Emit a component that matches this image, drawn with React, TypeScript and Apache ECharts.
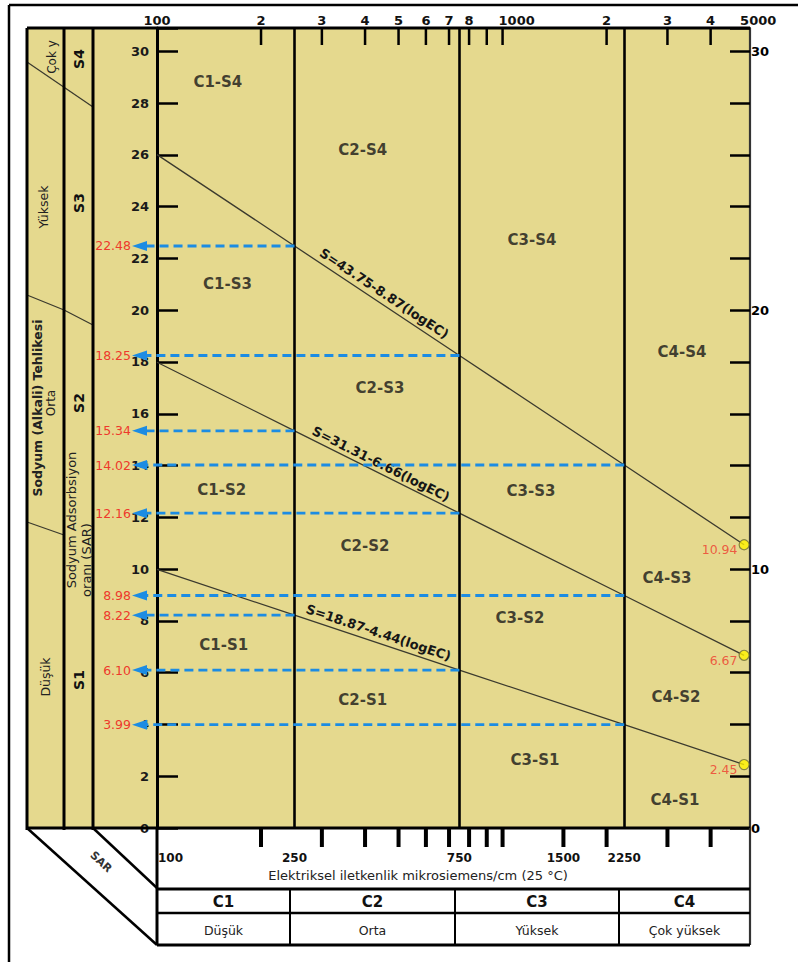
import React, { useEffect, useRef } from "react";
import * as echarts from "echarts";

// Salinity (EC) classes: boundaries in µS/cm, class names and hazard levels
const ecBounds = [250, 750, 2250];
const ecClasses = ["C1", "C2", "C3", "C4"];
const ecLevels = ["Düşük", "Orta", "Yüksek", "Çok yüksek"];

// Sodium hazard boundary lines, sampled at these EC values
const lineEC = [100, 250, 750, 2250, 5000];
const sarS4S3 = [26.01, 22.48, 18.25, 14.02, 10.94];
const sarS3S2 = [17.99, 15.34, 12.16, 8.98, 6.67];
const sarS2S1 = [9.99, 8.22, 6.1, 3.99, 2.45];
const equations = ["S=43.75-8.87(logEC)", "S=31.31-6.66(logEC)", "S=18.87-4.44(logEC)"];

// Zone names with their place in the diagram: [name, EC, SAR]
const zones: [string, number, number][] = [
  ["C1-S4", 150, 28.8], ["C2-S4", 394, 26.2], ["C3-S4", 1216, 22.7], ["C4-S4", 3304, 18.4],
  ["C1-S3", 160, 21.0], ["C2-S3", 442, 17.0], ["C3-S3", 1208, 13.0], ["C4-S3", 2990, 9.65],
  ["C1-S2", 154, 13.05], ["C2-S2", 400, 10.9], ["C3-S2", 1123, 8.1], ["C4-S2", 3175, 5.06],
  ["C1-S1", 156, 7.07], ["C2-S1", 394, 4.94], ["C3-S1", 1241, 2.63], ["C4-S1", 3154, 1.08],
];

// EC axis ticks and labels
const topTickValues = [200, 300, 400, 500, 600, 700, 800, 900, 1000, 2000, 3000, 4000];
const topLabelValues = [100, 200, 300, 400, 500, 600, 700, 800, 1000, 2000, 3000, 4000, 5000];
const topLabels = ["100", "2", "3", "4", "5", "6", "7", "8", "1000", "2", "3", "4", "5000"];
const bottomTickValues = [200, 300, 400, 500, 600, 700, 800, 900, 1000, 1500, 2000, 3000, 4000];
const bottomLabelValues = [100, 250, 750, 1500, 2250];

const FONT = "'DejaVu Sans', sans-serif";
const YELLOW = "#e5d98e";
const RED = "#ee3a2c";
const BLUE = "#1c8ce3";
const INK = "#111";

// page layout (px)
const GRID = { left: 157, top: 28, width: 593, height: 800 };
const RIGHT = GRID.left + GRID.width;
const BOTTOM = GRID.top + GRID.height;
const COL = [27, 64, 93];
const TABLE_Y = [889, 913, 945];
const TABLE_X = [157, 290, 455, 619, 750];

const boundaryLines = [sarS4S3, sarS3S2, sarS2S1];

function buildOption(): echarts.EChartsOption {
  const lineSeries = boundaryLines.map((arr, i) => ({
    type: "line" as const,
    data: lineEC.map((ec, k) => [ec, arr[k]]),
    symbol: "none",
    lineStyle: { color: "#3b3a2e", width: 1.3 },
    z: 3,
    silent: true,
    markLine:
      i === 0
        ? {
            silent: true,
            symbol: ["none", "none"],
            label: { show: false },
            lineStyle: { color: "#000", width: 2.6, type: "solid" as const },
            data: ecBounds.map((v) => ({ xAxis: v })),
          }
        : undefined,
  }));

  return {
    animation: false,
    grid: { ...GRID, containLabel: false, outerBoundsMode: "none" } as any,
    xAxis: { type: "log", logBase: 10, min: 100, max: 5200, show: false },
    yAxis: [
      {
        type: "value",
        position: "left",
        min: 0,
        max: 30.9,
        interval: 2,
        axisLine: { show: true, onZero: false, lineStyle: { color: "#000", width: 3 } },
        axisTick: { show: true, inside: true, length: 21, lineStyle: { color: "#000", width: 2.5 } },
        axisLabel: {
          formatter: (v: number) => (v % 2 === 0 && v <= 30 ? String(v) : ""),
          color: "#1a1a1a",
          fontFamily: FONT,
          fontWeight: "bold",
          fontSize: 13,
          margin: 8,
        },
        splitLine: { show: false },
      },
      {
        type: "value",
        position: "right",
        min: 0,
        max: 30.9,
        interval: 2,
        axisLine: { show: true, onZero: false, lineStyle: { color: "#333", width: 2.2 } },
        axisTick: { show: true, inside: true, length: 20, lineStyle: { color: "#000", width: 2.5 } },
        axisLabel: {
          formatter: (v: number) => (v % 10 === 0 ? String(v) : ""),
          color: "#000",
          fontFamily: FONT,
          fontWeight: "bold",
          fontSize: 13,
          margin: 1,
        },
        splitLine: { show: false },
      },
    ],
    series: [
      ...lineSeries,
      {
        type: "scatter",
        data: boundaryLines.map((arr) => [lineEC[lineEC.length - 1], arr[arr.length - 1]]),
        symbol: "circle",
        symbolSize: 10,
        clip: false,
        z: 6,
        itemStyle: { color: "#fff200", borderColor: "#6b6b3a", borderWidth: 1.2 },
        label: {
          show: true,
          position: "left",
          distance: 1,
          offset: [0, 5],
          formatter: (p: any) => p.value[1].toFixed(2),
          color: RED,
          fontFamily: FONT,
          fontSize: 12.5,
        },
      },
      {
        type: "scatter",
        data: zones.map(([name, ec, sar]) => ({ name, value: [ec, sar] })),
        symbolSize: 1,
        itemStyle: { color: "rgba(0,0,0,0)" },
        z: 5,
        silent: true,
        label: {
          show: true,
          position: "inside",
          formatter: "{b}",
          color: "#161616",
          fontFamily: FONT,
          fontWeight: "bold",
          fontSize: 15,
        },
      },
    ],
  } as any;
}

function buildGraphic(chart: echarts.ECharts) {
  const P = (ec: number, s: number) => chart.convertToPixel({ gridIndex: 0 }, [ec, s]) as number[];
  const g: any[] = [];
  const seg = (x1: number, y1: number, x2: number, y2: number, w: number, color = "#000", z = 60, dash?: number[]) =>
    g.push({ type: "line", silent: true, z, shape: { x1, y1, x2, y2 }, style: { stroke: color, lineWidth: w, lineDash: dash } });
  const txt = (
    x: number,
    y: number,
    text: string,
    o: { size?: number; bold?: boolean; color?: string; align?: string; rotation?: number; z?: number } = {}
  ) =>
    g.push({
      type: "text",
      silent: true,
      x,
      y,
      rotation: o.rotation || 0,
      z: o.z ?? 70,
      style: {
        text,
        fill: o.color || INK,
        fontFamily: FONT,
        fontSize: o.size || 12,
        fontWeight: o.bold ? "bold" : "normal",
        align: o.align || "center",
        verticalAlign: "middle",
        textAlign: o.align || "center",
        textVerticalAlign: "middle",
      },
    });

  // yellow panel behind the plot and the side columns
  g.push({ type: "rect", silent: true, z: -10, shape: { x: COL[0], y: GRID.top, width: RIGHT - COL[0], height: GRID.height }, style: { fill: YELLOW } });

  // outer frame
  seg(9, 5, 798, 5, 2.5);
  seg(9, 5, 9, 962, 2.5);

  // panel borders and column separators
  seg(COL[0], GRID.top, RIGHT, GRID.top, 3);
  seg(COL[0], BOTTOM, RIGHT, BOTTOM, 3);
  seg(COL[0], GRID.top, COL[0], BOTTOM + 2, 3);
  seg(COL[1], GRID.top, COL[1], BOTTOM + 2, 3);
  seg(COL[2], GRID.top, COL[2], BOTTOM + 2, 3);
  seg(GRID.left, BOTTOM, GRID.left, TABLE_Y[2], 3);
  seg(RIGHT, BOTTOM, RIGHT, TABLE_Y[2], 2.2, "#333");

  // class table under the EC axis
  seg(GRID.left, TABLE_Y[0], RIGHT, TABLE_Y[0], 3);
  seg(GRID.left, TABLE_Y[1], RIGHT, TABLE_Y[1], 2.5);
  seg(GRID.left, TABLE_Y[2], RIGHT, TABLE_Y[2], 3);
  for (let i = 1; i < TABLE_X.length - 1; i++) seg(TABLE_X[i], TABLE_Y[0], TABLE_X[i], TABLE_Y[2], 2);
  ecClasses.forEach((c, i) => {
    const cx = (TABLE_X[i] + TABLE_X[i + 1]) / 2;
    txt(cx, (TABLE_Y[0] + TABLE_Y[1]) / 2 + 1, c, { size: 15, bold: true });
    txt(cx, (TABLE_Y[1] + TABLE_Y[2]) / 2 + 1, ecLevels[i], { size: 12.5, color: "#222" });
  });

  // slanted corner lines and SAR caption
  seg(COL[0], BOTTOM, GRID.left, TABLE_Y[2], 2.5);
  seg(COL[2], BOTTOM, GRID.left, TABLE_Y[0] - 1, 2.5);
  txt(101, 862, "SAR", { size: 11, bold: true, rotation: -0.75, color: "#333" });

  // top EC ticks and labels
  topTickValues.forEach((v) => {
    const x = P(v, 0)[0];
    seg(x, GRID.top, x, GRID.top + 17, 2.5);
  });
  topLabelValues.forEach((v, i) => {
    const x = P(v, 0)[0];
    const wide = topLabels[i].length === 4;
    txt(wide ? x - 4 : x, 20, topLabels[i], { size: 13, bold: true, align: wide ? "left" : "center" });
  });

  // bottom EC ticks, labels and title
  bottomTickValues.forEach((v) => {
    const x = P(v, 0)[0];
    seg(x, BOTTOM, x, BOTTOM + 19, 4);
  });
  bottomLabelValues.forEach((v, i) => {
    const x = P(v, 0)[0];
    txt(i === 0 ? x + 1 : x, 858, String(v), { size: 12, bold: true, align: i === 0 ? "left" : "center" });
  });
  txt(418, 875, "Elektriksel iletkenlik mikrosiemens/cm (25 °C)", { size: 13, color: "#222" });

  // side columns: hazard levels and sodium classes
  const thin = "#3b3a2e";
  g.push({ type: "polyline", silent: true, z: 40, shape: { points: [[COL[0], 62], [COL[2], 107]] }, style: { stroke: thin, lineWidth: 1.3, fill: "none" } });
  g.push({ type: "polyline", silent: true, z: 40, shape: { points: [[COL[0], 295], [COL[1], 310], [COL[2], 325]] }, style: { stroke: thin, lineWidth: 1.3, fill: "none" } });
  g.push({ type: "polyline", silent: true, z: 40, shape: { points: [[COL[0], 522], [COL[1], 535]] }, style: { stroke: thin, lineWidth: 1.3, fill: "none" } });
  const up = Math.PI / 2;
  txt(52, 57, "Çok y", { size: 12, rotation: up, color: "#222" });
  txt(43, 207, "Yüksek", { size: 12.5, rotation: up, color: "#222" });
  txt(37, 408, "Sodyum (Alkali) Tehlikesi", { size: 12.5, bold: true, rotation: up, color: "#222" });
  txt(51, 403, "Orta", { size: 12, rotation: up, color: "#222" });
  txt(45, 677, "Düşük", { size: 12.5, rotation: up, color: "#222" });
  txt(79, 59, "S4", { size: 14, bold: true, rotation: up });
  txt(79, 203, "S3", { size: 14, bold: true, rotation: up });
  txt(79, 403, "S2", { size: 14, bold: true, rotation: up });
  txt(79, 680, "S1", { size: 14, bold: true, rotation: up });
  txt(71, 520, "Sodyum Adsorbsiyon", { size: 13, rotation: up, color: "#222" });
  txt(86, 560, "oranı (SAR)", { size: 13, rotation: up, color: "#222" });

  // equations written along the boundary lines
  const eqT = [0.51, 0.5, 0.49];
  const eqOff = [10, 9, 10];
  boundaryLines.forEach((arr, i) => {
    const a = P(lineEC[1], arr[1]);
    const b = P(lineEC[2], arr[2]);
    const dx = b[0] - a[0];
    const dy = b[1] - a[1];
    const len = Math.hypot(dx, dy);
    const nx = dy / len;
    const ny = -dx / len;
    const cx = a[0] + eqT[i] * dx + eqOff[i] * nx;
    const cy = a[1] + eqT[i] * dy + eqOff[i] * ny;
    txt(cx, cy, equations[i], { size: 13, bold: true, rotation: -Math.atan2(dy, dx), color: "#161616", z: 65 });
  });

  // dashed read-off arrows from each class boundary to the SAR scale
  const tipX = GRID.left - 25;
  boundaryLines.forEach((arr) => {
    for (let k = 1; k <= ecBounds.length; k++) {
      const [sx, sy] = P(ecBounds[k - 1], arr[k]);
      seg(sx, sy, tipX + 13, sy, 2.8, BLUE, 80, [9, 5]);
      g.push({
        type: "polygon",
        silent: true,
        z: 81,
        shape: { points: [[tipX, sy], [tipX + 15, sy - 5], [tipX + 15, sy + 5]] },
        style: { fill: BLUE },
      });
      txt(tipX - 1, sy, arr[k].toFixed(2), { size: 12.5, color: RED, align: "right", z: 82 });
    }
  });

  return g;
}

export default function App() {
  const ref = useRef<HTMLDivElement>(null);
  useEffect(() => {
    document.body.style.margin = "0";
    const chart = echarts.init(ref.current!, null, { renderer: "svg" });
    chart.setOption(buildOption());
    chart.setOption({ graphic: buildGraphic(chart) });
    return () => chart.dispose();
  }, []);
  return <div ref={ref} style={{ width: 798, height: 962 }} />;
}
